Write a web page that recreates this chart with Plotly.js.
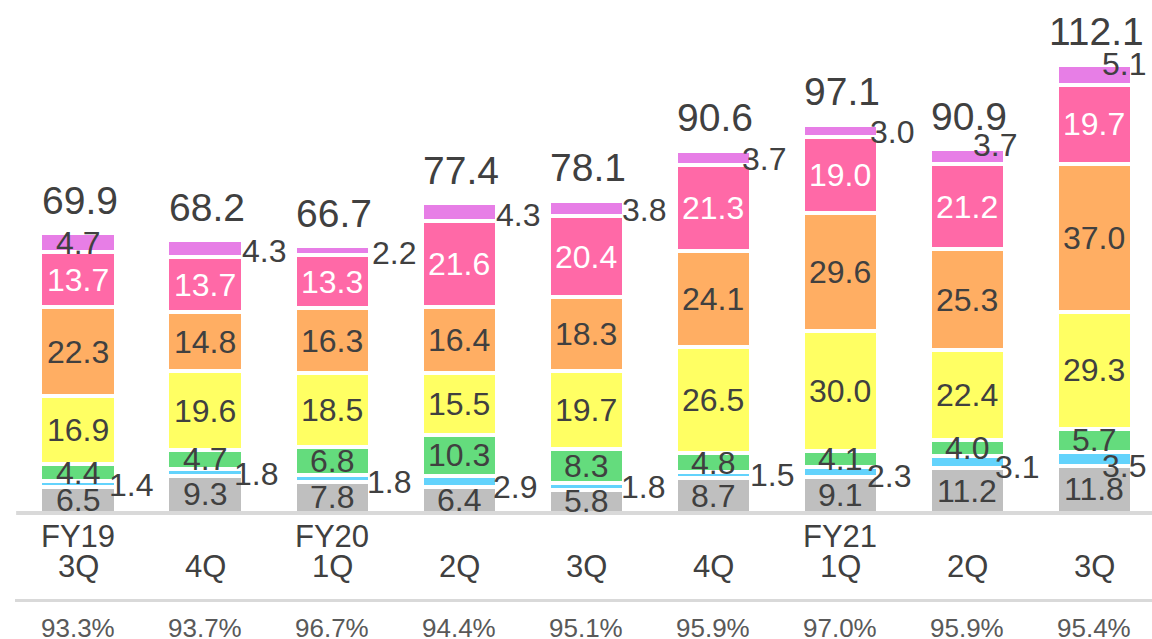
<!DOCTYPE html>
<html>
<head>
<meta charset="utf-8">
<script src="https://cdn.plot.ly/plotly-3.0.1.min.js"></script>
<style>
  html, body { margin: 0; padding: 0; background: #ffffff; }
  #chart { width: 1152px; height: 639px; }
</style>
</head>
<body>
<div id="chart"></div>
<script>
// ---------- data ----------
const periods = ['FY19 3Q', 'FY19 4Q', 'FY20 1Q', 'FY20 2Q', 'FY20 3Q', 'FY20 4Q', 'FY21 1Q', 'FY21 2Q', 'FY21 3Q'];
const yearLabels = ['FY19', '', 'FY20', '', '', '', 'FY21', '', ''];
const quarterLabels = ['3Q', '4Q', '1Q', '2Q', '3Q', '4Q', '1Q', '2Q', '3Q'];
const grayVals   = [6.5, 9.3, 7.8, 6.4, 5.8, 8.7, 9.1, 11.2, 11.8];
const blueVals   = [1.4, 1.8, 1.8, 2.9, 1.8, 1.5, 2.3, 3.1, 3.5];
const greenVals  = [4.4, 4.7, 6.8, 10.3, 8.3, 4.8, 4.1, 4.0, 5.7];
const yellowVals = [16.9, 19.6, 18.5, 15.5, 19.7, 26.5, 30.0, 22.4, 29.3];
const orangeVals = [22.3, 14.8, 16.3, 16.4, 18.3, 24.1, 29.6, 25.3, 37.0];
const pinkVals   = [13.7, 13.7, 13.3, 21.6, 20.4, 21.3, 19.0, 21.2, 19.7];
const violetVals = [4.7, 4.3, 2.2, 4.3, 3.8, 3.7, 3.0, 3.7, 5.1];
const totals     = [69.9, 68.2, 66.7, 77.4, 78.1, 90.6, 97.1, 90.9, 112.1];
const shares     = ['93.3%', '93.7%', '96.7%', '94.4%', '95.1%', '95.9%', '97.0%', '95.9%', '95.4%'];

// ---------- styling / layout constants ----------
const FONT = '"Liberation Sans", Arial, sans-serif';
const DARK = '#404040';
const H = 639;
const PX_PER_UNIT_X = 126.9;
const HALF_VISIBLE = 35.5 / PX_PER_UNIT_X;   // half visible bar width in x units

// label nudges (pixels) for the labels set beside the bars
const blueDx   = [-4, -6, 0, -1, 0, 2, -8, -7, -27];
const blueDy   = [1, 1.5, 4, 5, 0.5, 0, 4, 5, 7];
const violetDx = [0, 2, 5, 2, 1, -6, -5, -29, -27];
const violetDy = [0, 2, 2, 3, 2, 1, 1.5, -12, -11];

const series = [
  {name: 'gray',   vals: grayVals,   color: '#bfbfbf', label: 'inside',  txt: DARK},
  {name: 'blue',   vals: blueVals,   color: '#63d3fc', label: 'outside', txt: DARK},
  {name: 'green',  vals: greenVals,  color: '#64dc7d', label: 'inside',  txt: DARK},
  {name: 'yellow', vals: yellowVals, color: '#ffff63', label: 'inside',  txt: DARK},
  {name: 'orange', vals: orangeVals, color: '#ffae63', label: 'inside',  txt: DARK},
  {name: 'pink',   vals: pinkVals,   color: '#ff69a7', label: 'inside',  txt: '#ffffff'},
  {name: 'violet', vals: violetVals, color: '#e77ee6', label: 'outside', txt: DARK}
];

const xs = periods.map((p, i) => i);

const traces = series.map(s => ({
  type: 'bar',
  name: s.name,
  x: xs,
  y: s.vals,
  width: 0.591,
  marker: {color: s.color, line: {color: '#ffffff', width: 4}},
  hoverinfo: 'skip'
}));

const annotations = [];
const cum = periods.map(() => 0);
series.forEach((s, si) => {
  s.vals.forEach((v, i) => {
    const mid = cum[i] + v / 2;
    cum[i] += v;
    const inside = s.label === 'inside' || (s.name === 'violet' && i === 0);
    if (inside) {
      annotations.push({
        x: i, y: mid, xref: 'x', yref: 'y',
        text: v.toFixed(1), showarrow: false,
        xanchor: 'center', yanchor: 'middle',
        font: {family: FONT, size: 32, color: s.txt}
      });
    } else {
      const dx = s.name === 'blue' ? blueDx[i] : violetDx[i];
      const dy = s.name === 'blue' ? blueDy[i] : violetDy[i];
      annotations.push({
        x: i + HALF_VISIBLE, y: mid, xref: 'x', yref: 'y',
        text: v.toFixed(1), showarrow: false,
        xanchor: 'left', yanchor: 'middle',
        xshift: dx - 3, yshift: -dy,
        font: {family: FONT, size: 32, color: s.txt}
      });
    }
  });
});

// totals above bars
totals.forEach((t, i) => {
  annotations.push({
    x: i, y: t, xref: 'x', yref: 'y',
    text: t.toFixed(1), showarrow: false,
    xanchor: 'center', yanchor: 'middle',
    xshift: 2, yshift: 33,
    font: {family: FONT, size: 39, color: DARK}
  });
});

// category labels and shares
periods.forEach((p, i) => {
  if (yearLabels[i]) {
    annotations.push({
      x: i, y: 1 - 536 / H, xref: 'x', yref: 'paper',
      text: yearLabels[i], showarrow: false,
      xanchor: 'center', yanchor: 'middle',
      font: {family: FONT, size: 31, color: DARK}
    });
  }
  annotations.push({
    x: i, y: 1 - 566 / H, xref: 'x', yref: 'paper',
    text: quarterLabels[i], showarrow: false,
    xanchor: 'center', yanchor: 'middle',
    font: {family: FONT, size: 31, color: DARK}
  });
  annotations.push({
    x: i, y: 1 - 628 / H, xref: 'x', yref: 'paper',
    text: shares[i], showarrow: false,
    xanchor: 'center', yanchor: 'middle',
    font: {family: FONT, size: 26, color: '#595959'}
  });
});

const layout = {
  width: 1152, height: 639,
  margin: {l: 15, r: 0, t: 0, b: 0, pad: 0},
  paper_bgcolor: '#ffffff', plot_bgcolor: '#ffffff',
  barmode: 'stack',
  showlegend: false,
  xaxis: {
    type: 'linear', range: [-0.496, 8.455],
    showgrid: false, zeroline: false, showticklabels: false, showline: false, fixedrange: true
  },
  yaxis: {
    range: [-31.5, 128.25],
    showgrid: false, zeroline: false, showticklabels: false, showline: false, fixedrange: true
  },
  shapes: [
    {type: 'line', xref: 'paper', yref: 'y', x0: 0.001, x1: 1, y0: 0, y1: 0,
     line: {color: '#d9d9d9', width: 4}, layer: 'above'},
    {type: 'line', xref: 'paper', yref: 'paper', x0: 0, x1: 1, y0: 1 - 600.5 / H, y1: 1 - 600.5 / H,
     line: {color: '#d9d9d9', width: 3}}
  ],
  annotations: annotations,
  font: {family: FONT, color: DARK}
};

Plotly.newPlot('chart', traces, layout, {displayModeBar: false, staticPlot: true});
</script>
</body>
</html>
